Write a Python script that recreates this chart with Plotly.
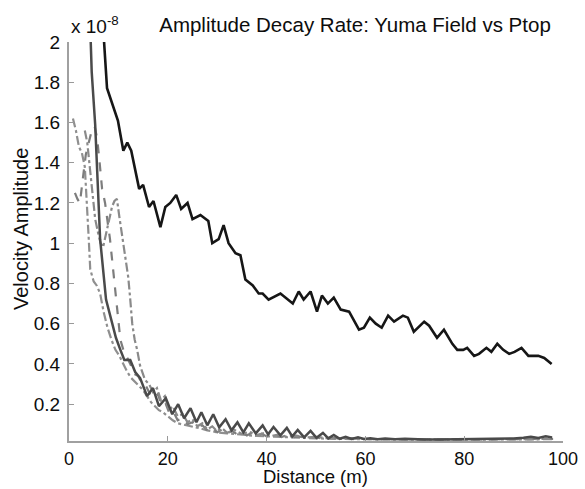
import plotly.graph_objects as go

# Field data (black, upper curve), amplitude in units of 1e-8
field_x = [6.6, 7.1, 7.7, 9.9, 11.0, 11.8, 12.6, 14.2, 15.0, 16.2, 17.1, 18.5, 19.5, 20.5, 21.7, 22.7,
           24.0, 25.0, 26.6, 28.2, 29.0, 30.3, 31.3, 32.3, 33.7, 34.7, 35.7, 37.2, 38.4, 39.2, 40.4,
           42.8, 45.3, 46.5, 47.5, 48.9, 50.2, 51.2, 52.4, 53.6, 55.0, 56.7, 58.7, 59.7, 60.9, 62.1,
           63.3, 64.6, 65.8, 67.6, 68.6, 69.8, 71.9, 72.9, 74.5, 75.9, 77.6, 78.6, 79.8, 80.6, 82.0,
           83.0, 84.5, 85.5, 86.7, 87.9, 89.1, 90.2, 91.6, 93.0, 95.0, 96.2, 97.7]
field_y = [2.40, 2.00, 1.77, 1.61, 1.46, 1.50, 1.46, 1.27, 1.29, 1.18, 1.21, 1.08, 1.18, 1.20, 1.24, 1.17,
           1.20, 1.12, 1.14, 1.11, 1.00, 1.02, 1.09, 1.00, 0.95, 0.94, 0.82, 0.79, 0.75, 0.75, 0.72,
           0.75, 0.70, 0.76, 0.72, 0.76, 0.66, 0.74, 0.70, 0.73, 0.67, 0.66, 0.57, 0.58, 0.63, 0.60,
           0.58, 0.64, 0.61, 0.64, 0.63, 0.56, 0.61, 0.59, 0.53, 0.57, 0.50, 0.47, 0.47, 0.48, 0.44,
           0.45, 0.48, 0.46, 0.50, 0.47, 0.45, 0.46, 0.48, 0.44, 0.44, 0.43, 0.40]

# Ptop model (dark gray solid)
model_x = [4.0, 4.6, 5.3, 5.8, 6.3, 7.5, 8.5, 9.5, 10.4, 11.2, 12.4, 13.4, 14.4, 15.8, 17.0, 18.2,
           19.6, 20.9, 22.1, 23.3, 24.6, 25.8, 26.8, 28.0, 29.2, 30.4, 31.7, 32.9, 34.1, 35.3, 36.4,
           37.8, 39.2, 40.3, 41.4, 42.8, 44.1, 45.2, 46.3, 47.6, 48.9, 50.1, 51.4, 52.5, 53.6, 54.8,
           56.0, 57.2, 58.5, 59.7, 61.0, 62.5, 64.0, 66.0, 68.0, 70.0, 72.0, 75.0, 78.0, 80.0, 83.0,
           86.0, 88.0, 90.0, 92.0, 93.5, 95.0, 96.5, 97.8]
model_y = [2.30, 1.85, 1.59, 1.30, 1.02, 0.72, 0.62, 0.53, 0.47, 0.42, 0.42, 0.36, 0.33, 0.24, 0.28, 0.19,
           0.23, 0.15, 0.20, 0.13, 0.18, 0.11, 0.16, 0.095, 0.15, 0.085, 0.125, 0.07, 0.11, 0.06, 0.105,
           0.055, 0.095, 0.05, 0.087, 0.045, 0.082, 0.04, 0.072, 0.035, 0.067, 0.033, 0.057, 0.03, 0.047, 0.028,
           0.038, 0.027, 0.036, 0.027, 0.030, 0.026, 0.029, 0.026, 0.028, 0.026, 0.025, 0.025, 0.026, 0.025, 0.026,
           0.027, 0.028, 0.030, 0.033, 0.038, 0.032, 0.040, 0.035]

# Other runs (gray broken lines)
run1_x = [0.8, 1.4, 2.0, 2.6, 3.2, 3.6, 4.0, 4.3, 5.0, 5.6, 6.3, 7.0, 7.8, 8.6, 9.4, 10.2, 11.0, 11.8,
          12.6, 13.4, 14.2, 15.0, 15.8, 16.6, 17.4, 18.2, 19.0, 20.0, 21.0, 22.0, 23.0, 24.0, 25.0,
          26.5, 28.0, 30.0, 32.0, 34.0, 36.0, 38.0, 40.0, 43.0, 46.0, 50.0, 55.0, 60.0, 65.0, 70.0,
          75.0, 80.0, 85.0, 90.0, 95.0, 98.0]
run1_y = [1.62, 1.56, 1.48, 1.45, 1.38, 1.22, 1.02, 0.87, 0.81, 0.79, 0.75, 0.66, 0.58, 0.52, 0.47, 0.44, 0.40, 0.36,
          0.33, 0.31, 0.29, 0.27, 0.24, 0.21, 0.19, 0.17, 0.16, 0.14, 0.12, 0.105, 0.10, 0.095, 0.09,
          0.08, 0.07, 0.06, 0.055, 0.05, 0.045, 0.042, 0.04, 0.036, 0.033, 0.03, 0.027, 0.025, 0.024, 0.024,
          0.023, 0.023, 0.024, 0.024, 0.025, 0.026]

run2_x = [1.2, 1.7, 2.2, 2.8, 3.4, 4.0, 4.6, 5.2, 5.7, 6.2, 6.7, 7.3, 7.9, 8.3, 8.8, 9.3, 9.8, 10.4,
          11.0, 11.6, 12.4, 13.2, 14.0, 14.8, 15.6, 16.4, 17.2, 18.0, 18.8, 19.6, 20.4, 21.2, 22.0,
          23.0, 24.0, 25.0, 26.0, 27.0, 28.0, 29.0, 30.0, 31.0, 32.0, 33.0, 34.0, 35.0, 36.0, 37.0,
          38.0, 39.0, 40.0, 42.0, 43.0, 44.0, 45.0, 46.5, 48.0, 49.5, 51.0, 53.0, 55.0, 57.0, 60.0,
          65.0, 70.0, 80.0, 90.0, 98.0]
run2_y = [1.25, 1.22, 1.20, 1.33, 1.44, 1.50, 1.56, 1.58, 1.52, 1.40, 1.27, 1.20, 1.10, 1.02, 0.90, 0.77, 0.64, 0.52,
          0.47, 0.44, 0.40, 0.35, 0.34, 0.30, 0.29, 0.25, 0.23, 0.25, 0.19, 0.20, 0.15, 0.16, 0.12,
          0.13, 0.10, 0.11, 0.085, 0.095, 0.07, 0.085, 0.06, 0.075, 0.055, 0.068, 0.05, 0.062, 0.045, 0.058,
          0.043, 0.053, 0.04, 0.048, 0.037, 0.045, 0.034, 0.04, 0.032, 0.037, 0.03, 0.034, 0.028, 0.031, 0.027,
          0.026, 0.025, 0.025, 0.026, 0.028]

run3_x = [3.2, 3.7, 4.2, 4.7, 5.3, 5.9, 6.4, 6.9, 7.5, 8.1, 8.7, 9.2, 9.7, 10.2, 10.8, 11.4, 12.0, 12.4,
          12.8, 13.3, 13.8, 14.4, 15.4, 16.2, 17.0, 17.8, 18.6, 19.4, 20.2, 21.0, 22.0, 23.0, 24.0,
          25.0, 26.0, 27.0, 28.0, 29.0, 30.0, 31.0, 32.0, 33.5, 35.0, 36.5, 38.0, 39.5, 41.0, 42.5,
          44.0, 46.0, 48.0, 50.0, 52.0, 55.0, 60.0, 70.0, 80.0, 90.0, 98.0]
run3_y = [1.56, 1.50, 1.38, 1.25, 1.12, 1.05, 1.00, 0.98, 1.05, 1.12, 1.18, 1.21, 1.22, 1.13, 1.03, 0.93, 0.83, 0.72,
          0.60, 0.52, 0.47, 0.39, 0.32, 0.30, 0.26, 0.28, 0.22, 0.24, 0.17, 0.19, 0.14, 0.15, 0.11,
          0.125, 0.09, 0.105, 0.075, 0.09, 0.065, 0.08, 0.058, 0.072, 0.052, 0.063, 0.047, 0.056, 0.042, 0.05,
          0.038, 0.044, 0.034, 0.038, 0.031, 0.03, 0.027, 0.025, 0.025, 0.026, 0.027]

y_ticks = [0.2, 0.4, 0.6, 0.8, 1.0, 1.2, 1.4, 1.6, 1.8, 2.0]
y_ticktext = ["0.2", "0.4", "0.6", "0.8", "1", "1.2", "1.4", "1.6", "1.8", "2"]
x_ticks = [0, 20, 40, 60, 80, 100]

FONT = "Liberation Sans, Arial, Helvetica, sans-serif"
INK = "#0d0d0d"
L, R, T, B = 69, 22, 42, 48
PW, PH = 585 - L - R, 489 - T - B

fig = go.Figure()
fig.add_trace(go.Scatter(x=run1_x, y=run1_y, mode="lines",
                         line=dict(color="#8f8f8f", width=2.2, dash="dashdot")))
fig.add_trace(go.Scatter(x=run2_x, y=run2_y, mode="lines",
                         line=dict(color="#7d7d7d", width=2.2, dash="dash")))
fig.add_trace(go.Scatter(x=run3_x, y=run3_y, mode="lines",
                         line=dict(color="#8a8a8a", width=2.2, dash="dashdot")))
fig.add_trace(go.Scatter(x=model_x, y=model_y, mode="lines",
                         line=dict(color="#4a4a4a", width=2.5)))
fig.add_trace(go.Scatter(x=field_x, y=field_y, mode="lines",
                         line=dict(color="#161616", width=2.6)))

fig.update_layout(
    width=585, height=489,
    margin=dict(l=L, r=R, t=T, b=B, autoexpand=False),
    plot_bgcolor="white", paper_bgcolor="white",
    showlegend=False,
    font=dict(family=FONT, size=19, color=INK),
    title=dict(text="Amplitude Decay Rate: Yuma Field vs Ptop", x=355 / 585, xanchor="center",
               y=1 - 25 / 489, yanchor="middle", font=dict(family=FONT, size=20.5, color=INK)),
)
fig.update_xaxes(range=[0, 100], tickvals=x_ticks, ticks="inside", ticklen=5, tickcolor="#999999",
                 showline=True, linecolor="#a0a0a0", linewidth=2, showgrid=False, zeroline=False,
                 tickfont=dict(size=18, color=INK), ticklabelstandoff=0, automargin=False)
fig.update_yaxes(range=[0.017, 2], tickvals=y_ticks, ticktext=y_ticktext, ticks="inside", ticklen=5,
                 tickcolor="#999999", showline=True, linecolor="#a0a0a0", linewidth=2,
                 showgrid=False, zeroline=False, tickfont=dict(size=19, color=INK), ticklabelstandoff=3,
                 automargin=False)
fig.add_annotation(text="Velocity Amplitude", xref="paper", yref="paper",
                   x=-(L - 21) / PW, y=(441 - 229) / PH, xanchor="center", yanchor="middle",
                   textangle=-90, showarrow=False, font=dict(family=FONT, size=20, color=INK))
fig.add_annotation(text="Distance (m)", xref="paper", yref="paper",
                   x=(315 - L) / PW, y=(441 - 476) / PH, xanchor="center", yanchor="middle",
                   showarrow=False, borderpad=0, font=dict(family=FONT, size=18.5, color=INK))
fig.add_annotation(text="x 10<sup>-8</sup>", xref="paper", yref="paper", x=0, y=1,
                   xanchor="left", yanchor="bottom", yshift=3, showarrow=False,
                   font=dict(family=FONT, size=19, color=INK))

fig.write_html("out.html")
